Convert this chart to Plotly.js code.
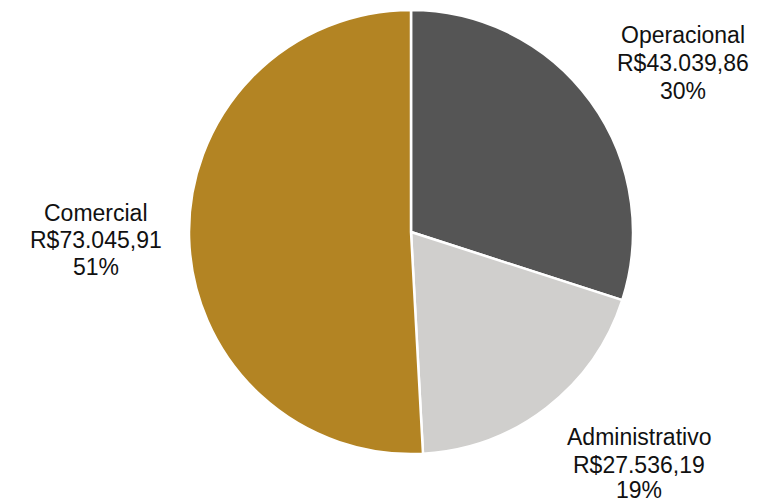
<!DOCTYPE html>
<html>
<head>
<meta charset="utf-8">
<script src="https://cdn.plot.ly/plotly-3.0.1.min.js"></script>
<style>html,body{margin:0;padding:0;background:#fff;}#chart{width:773px;height:502px;}</style>
</head>
<body>
<div id="chart"></div>
<script>
const categories = ["Operacional", "Administrativo", "Comercial"];
const values = [43039.86, 27536.19, 73045.91];
const colors = ["#555555", "#d0cfcd", "#b38423"];

// label placement (pixel centers of each label line block) - layout only
const labelX = [683, 639, 96];
const labelY = [[35, 63, 91], [437, 465, 490], [213, 240, 267]];

function brl(v) {
  const parts = v.toFixed(2).split(".");
  const intPart = parts[0].replace(/\B(?=(\d{3})+(?!\d))/g, ".");
  return "R$" + intPart + "," + parts[1];
}
const total = values.reduce((a, b) => a + b, 0);

const W = 773, H = 502;
const annotations = [];
categories.forEach((c, i) => {
  const lines = [c, brl(values[i]), Math.round(values[i] / total * 100) + "%"];
  lines.forEach((t, j) => {
    annotations.push({
      x: labelX[i] / W, y: 1 - labelY[i][j] / H,
      xref: "paper", yref: "paper",
      xanchor: "center", yanchor: "middle",
      text: t, showarrow: false,
      font: {family: "Liberation Sans, Arial, sans-serif", size: 23, color: "#111111"}
    });
  });
});

const trace = {
  type: "pie",
  labels: categories,
  values: values,
  sort: false,
  direction: "clockwise",
  rotation: 0,
  textinfo: "none",
  hoverinfo: "label+value+percent",
  marker: {colors: colors, line: {color: "#ffffff", width: 2.5}},
  domain: {x: [189 / W, 633 / W], y: [1 - 454 / H, 1 - 10 / H]},
  showlegend: false
};

Plotly.newPlot("chart", [trace], {
  width: W, height: H,
  margin: {l: 0, r: 0, t: 0, b: 0},
  paper_bgcolor: "#ffffff",
  plot_bgcolor: "#ffffff",
  showlegend: false,
  annotations: annotations
}, {displayModeBar: false, staticPlot: true});
</script>
</body>
</html>
